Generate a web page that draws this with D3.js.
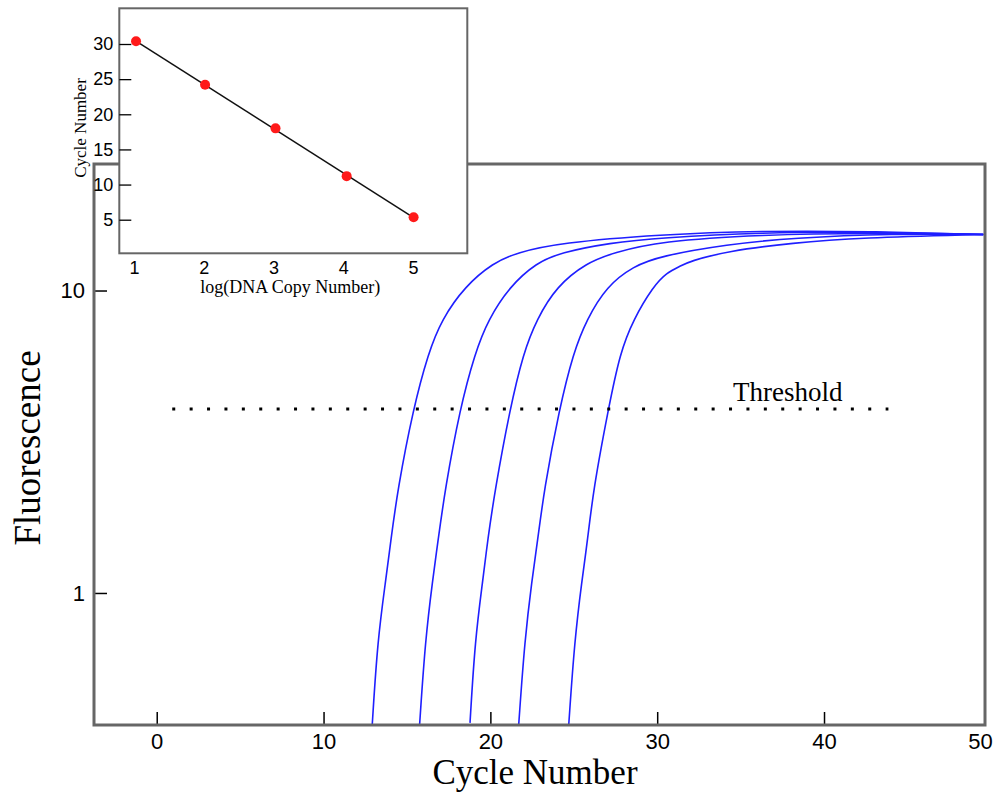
<!DOCTYPE html>
<html>
<head>
<meta charset="utf-8">
<script src="https://cdn.jsdelivr.net/npm/d3@7"></script>
<style>
  body { margin: 0; background: #fff; }
  svg { display: block; }
</style>
</head>
<body>
<svg id="chart" width="994" height="794"></svg>
<script>
// amplification curves, [cycle, fluorescence]
const curve1 = [[12.92, 0.368], [13.24, 0.699], [13.73, 1.104], [14.04, 1.498], [14.44, 2.193], [15.37, 4.057], [16.28, 6.219], [17.08, 8.017], [18.48, 10.33], [20.17, 12.35], [21.58, 13.33], [24.17, 14.38], [30.17, 15.32], [36.24, 15.75], [42.70, 15.70], [49.55, 15.32]];
const curve2 = [[15.76, 0.368], [16.10, 0.699], [16.54, 1.104], [16.87, 1.498], [17.28, 2.193], [18.17, 4.057], [19.08, 6.219], [19.87, 8.017], [21.17, 10.33], [22.77, 12.35], [24.17, 13.33], [27.17, 14.38], [30.17, 14.94], [36.24, 15.55], [42.70, 15.62], [49.55, 15.32]];
const curve3 = [[18.78, 0.372], [19.08, 0.699], [19.55, 1.104], [19.84, 1.498], [20.28, 2.193], [21.17, 4.057], [21.98, 6.219], [22.77, 8.017], [23.97, 10.33], [25.77, 12.35], [27.37, 13.33], [30.17, 14.56], [36.24, 15.30], [42.70, 15.50], [49.55, 15.32]];
const curve4 = [[21.70, 0.368], [22.06, 0.699], [22.49, 1.104], [22.84, 1.498], [23.22, 2.193], [24.13, 4.057], [24.97, 6.219], [25.77, 8.017], [26.97, 10.33], [28.57, 12.03], [30.17, 12.99], [34.17, 14.20], [38.14, 14.94], [44.14, 15.41], [49.55, 15.32]];
const curve5 = [[24.70, 0.368], [25.05, 0.699], [25.49, 1.104], [25.83, 1.498], [26.17, 2.193], [27.07, 4.057], [27.77, 6.219], [28.57, 8.017], [29.77, 10.33], [30.57, 11.45], [31.37, 12.03], [31.96, 12.50], [34.17, 13.49], [38.14, 14.38], [42.15, 14.94], [49.55, 15.32]];
const curves = [curve1, curve2, curve3, curve4, curve5];

const threshold = 4.06;
const thresholdRange = [0.93, 43.86];

const xTicks = [0, 10, 20, 30, 40, 50];
const yTicks = [1, 10];

// standard curve inset
const logCopies = [1.03, 2.02, 3.03, 4.05, 5.01];
const ctValues = [30.4, 24.2, 18.0, 11.2, 5.35];
const fitLine = [[1.03, 30.4], [5.01, 5.3]];
const insetXTicks = [1, 2, 3, 4, 5];
const insetYTicks = [5, 10, 15, 20, 25, 30];

const svg = d3.select('#chart');
const frame = { left: 94, right: 985, top: 164, bottom: 725 };
const inset = { left: 119.3, right: 467.3, top: 8.3, bottom: 253.3 };
const sans = '"Liberation Sans", Arial, sans-serif';
const serif = '"Liberation Serif", "Times New Roman", serif';

const x = d3.scaleLinear()
    .domain([-3.76, 49.65])
    .range([frame.left, frame.right]);

const y = d3.scaleLog()
    .domain([0.366, 26.2])
    .range([frame.bottom, frame.top]);

svg.append('clipPath').attr('id', 'plot-clip')
    .append('rect')
    .attr('x', frame.left).attr('y', frame.top)
    .attr('width', frame.right - frame.left)
    .attr('height', frame.bottom - frame.top);

// curves (basis spline smooths out reading jitter)
const line = d3.line()
    .x(d => x(d[0]))
    .y(d => y(d[1]))
    .curve(d3.curveBasis);

const curveGroup = svg.append('g').attr('clip-path', 'url(#plot-clip)');
curves.forEach(c => {
    curveGroup.append('path')
        .datum(c)
        .attr('fill', 'none')
        .attr('stroke', '#1f1fff')
        .attr('stroke-width', 1.6)
        .attr('d', line);
});

// threshold
svg.append('line')
    .attr('x1', x(thresholdRange[0]))
    .attr('x2', x(thresholdRange[1]))
    .attr('y1', y(threshold))
    .attr('y2', y(threshold))
    .attr('stroke', '#000')
    .attr('stroke-width', 3)
    .attr('stroke-dasharray', '3,14.4');

svg.append('text')
    .attr('x', 733)
    .attr('y', 401)
    .style('font-family', serif)
    .style('font-size', '27px')
    .text('Threshold');

// axes
const xAxis = svg.append('g')
    .attr('transform', `translate(0, ${frame.bottom})`)
    .call(d3.axisBottom(x).tickValues(xTicks).tickSizeInner(-13).tickSizeOuter(0).tickPadding(8));
xAxis.select('.domain').remove();
xAxis.selectAll('line').attr('stroke-width', 1.5);
xAxis.selectAll('text')
    .style('font-family', sans)
    .style('font-size', '22px')
    .attr('fill', '#000');
// 50 sits past the frame edge, pull its label back in
xAxis.selectAll('.tick').filter(d => d === 50)
    .select('line').remove();
xAxis.selectAll('.tick').filter(d => d === 50)
    .select('text').attr('x', 980 - x(50));

const yAxis = svg.append('g')
    .attr('transform', `translate(${frame.left}, 0)`)
    .call(d3.axisLeft(y).tickValues(yTicks).tickFormat(d3.format('d')).tickSizeInner(-13).tickSizeOuter(0).tickPadding(9));
yAxis.select('.domain').remove();
yAxis.selectAll('line').attr('stroke-width', 1.5);
yAxis.selectAll('text')
    .style('font-family', sans)
    .style('font-size', '22px')
    .attr('fill', '#000');

// frame
svg.append('rect')
    .attr('x', frame.left).attr('y', frame.top)
    .attr('width', frame.right - frame.left)
    .attr('height', frame.bottom - frame.top)
    .attr('fill', 'none')
    .attr('stroke', '#666')
    .attr('stroke-width', 3);

// axis titles
svg.append('text')
    .attr('x', 535)
    .attr('y', 784)
    .attr('text-anchor', 'middle')
    .style('font-family', serif)
    .style('font-size', '35px')
    .text('Cycle Number');

svg.append('text')
    .attr('transform', 'translate(40, 448) rotate(-90)')
    .attr('text-anchor', 'middle')
    .style('font-family', serif)
    .style('font-size', '37px')
    .text('Fluorescence');

// ---- inset ----
const ix = d3.scaleLinear()
    .domain([0.79, 5.78])
    .range([inset.left, inset.right]);

const iy = d3.scaleLinear()
    .domain([0.22, 35.08])
    .range([inset.bottom, inset.top]);

const insetG = svg.append('g');
insetG.append('rect')
    .attr('x', inset.left).attr('y', inset.top)
    .attr('width', inset.right - inset.left)
    .attr('height', inset.bottom - inset.top)
    .attr('fill', '#fff')
    .attr('stroke', '#666')
    .attr('stroke-width', 2);

const ixAxis = insetG.append('g')
    .attr('transform', `translate(0, ${inset.bottom})`)
    .call(d3.axisBottom(ix).tickValues(insetXTicks).tickFormat(d3.format('d')).tickSize(0).tickPadding(8));
ixAxis.select('.domain').remove();
ixAxis.selectAll('text')
    .style('font-family', sans)
    .style('font-size', '18px')
    .attr('fill', '#000');

const iyAxis = insetG.append('g')
    .attr('transform', `translate(${inset.left}, 0)`)
    .call(d3.axisLeft(iy).tickValues(insetYTicks).tickSizeInner(-12).tickSizeOuter(0).tickPadding(6));
iyAxis.select('.domain').remove();
iyAxis.selectAll('line').attr('stroke-width', 1.3);
iyAxis.selectAll('text')
    .style('font-family', sans)
    .style('font-size', '18px')
    .attr('fill', '#000');

insetG.append('path')
    .datum(fitLine)
    .attr('fill', 'none')
    .attr('stroke', '#111')
    .attr('stroke-width', 1.5)
    .attr('d', d3.line().x(d => ix(d[0])).y(d => iy(d[1])));

insetG.selectAll('circle')
    .data(logCopies.map((v, i) => [v, ctValues[i]]))
    .join('circle')
    .attr('cx', d => ix(d[0]))
    .attr('cy', d => iy(d[1]))
    .attr('r', 5)
    .attr('fill', '#ff1a1a');

insetG.append('text')
    .attr('x', (inset.left + inset.right) / 2 - 3)
    .attr('y', 293)
    .attr('text-anchor', 'middle')
    .style('font-family', serif)
    .style('font-size', '18px')
    .text('log(DNA Copy Number)');

insetG.append('text')
    .attr('transform', 'translate(86, 128) rotate(-90)')
    .attr('text-anchor', 'middle')
    .style('font-family', serif)
    .style('font-size', '17px')
    .text('Cycle Number');
</script>
</body>
</html>
